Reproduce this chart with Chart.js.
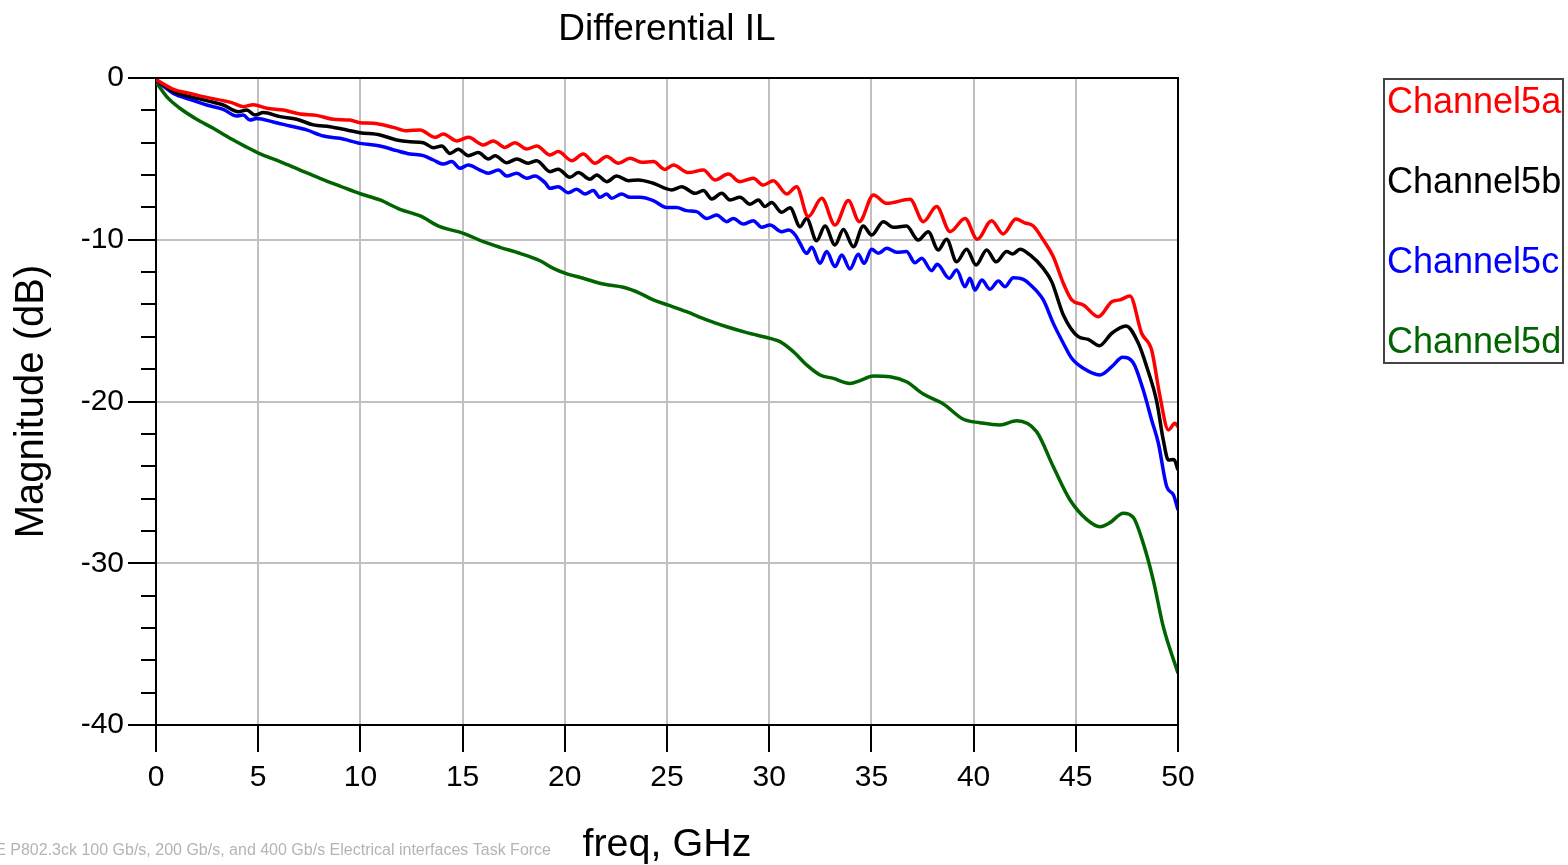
<!DOCTYPE html>
<html>
<head>
  <title>Differential IL</title>
  <script src="https://cdn.jsdelivr.net/npm/chart.js"></script>
  <style>
    body { margin: 0; background: #fff; }
  </style>
</head>
<body>
  <canvas id="ilChart" width="1568" height="865"></canvas>

  <script>
    // series names and colours
    const seriesNames = ['Channel5a', 'Channel5b', 'Channel5c', 'Channel5d'];
    const seriesColors = ['#ff0000', '#000000', '#0000ff', '#006400'];

    // Channel5a (red)
    const ch5aFreq = [0, 0.85, 1.66, 2.48, 3.29, 3.7, 4.27, 4.76, 5.42, 6.23, 7.05, 7.86, 8.67, 9.49, 9.98, 10.63, 11.61, 12.27, 12.92, 13.65, 14.06, 14.71, 15.28, 16.01, 16.5, 17.07, 17.56, 18.14, 18.63, 19.28, 19.68, 20.34, 20.9, 21.48, 22.05, 22.62, 23.19, 23.76, 24.33, 24.9, 25.31, 26.04, 26.78, 27.35, 28.0, 28.57, 29.22, 29.71, 30.2, 30.86, 31.34, 31.91, 32.57, 33.22, 33.87, 34.41, 35.1, 35.75, 36.89, 37.54, 38.19, 38.85, 39.58, 40.18, 40.88, 41.45, 42.07, 42.5, 42.92, 43.41, 43.9, 44.39, 44.8, 45.37, 46.1, 46.76, 47.16, 47.65, 48.22, 48.71, 49.12, 49.53, 49.85, 50];
    const ch5aMag = [-0.1, -0.7, -0.95, -1.2, -1.4, -1.52, -1.77, -1.65, -1.87, -1.98, -2.23, -2.31, -2.55, -2.6, -2.76, -2.8, -3.05, -3.26, -3.21, -3.67, -3.46, -3.89, -3.67, -4.14, -3.89, -4.29, -4.0, -4.39, -4.2, -4.76, -4.55, -5.11, -4.7, -5.27, -4.86, -5.27, -4.96, -5.21, -5.17, -5.65, -5.38, -5.85, -5.69, -6.31, -5.94, -6.41, -6.2, -6.62, -6.35, -7.17, -6.72, -8.57, -7.44, -9.09, -7.58, -8.88, -7.23, -7.75, -7.5, -8.88, -7.95, -9.5, -8.68, -9.97, -8.82, -9.64, -8.72, -8.95, -9.15, -10.02, -11.05, -12.69, -13.72, -14.03, -14.76, -13.83, -13.72, -13.48, -15.78, -16.82, -19.7, -21.76, -21.35, -21.56];

    // Channel5b (black)
    const ch5bFreq = [0, 0.85, 1.66, 2.48, 3.29, 4.03, 4.44, 4.84, 5.25, 6.07, 6.88, 7.7, 8.51, 9.33, 9.98, 10.96, 11.77, 12.43, 13.08, 13.57, 13.98, 14.38, 14.79, 15.28, 15.77, 16.26, 16.59, 17.16, 17.65, 18.21, 18.63, 19.28, 19.68, 20.25, 20.66, 21.23, 21.56, 22.05, 22.54, 23.11, 23.6, 24.33, 25.23, 25.72, 26.37, 26.78, 27.19, 27.68, 28.08, 28.57, 29.06, 29.47, 29.79, 30.12, 30.61, 31.02, 31.51, 31.83, 32.32, 32.73, 33.22, 33.63, 34.12, 34.6, 35.01, 35.58, 36.07, 36.72, 37.29, 37.78, 38.27, 38.68, 39.17, 39.66, 40.12, 40.64, 41.1, 41.62, 41.91, 42.27, 42.76, 43.41, 43.82, 44.39, 45.12, 45.61, 46.15, 46.76, 47.46, 48.06, 48.47, 48.96, 49.28, 49.53, 49.8, 50];
    const ch5bMag = [-0.1, -0.85, -1.15, -1.4, -1.67, -2.08, -1.98, -2.29, -2.14, -2.39, -2.55, -2.9, -3.01, -3.21, -3.38, -3.52, -3.83, -3.94, -4.0, -4.31, -4.2, -4.66, -4.41, -4.8, -4.61, -5.01, -4.8, -5.24, -5.01, -5.27, -5.11, -5.79, -5.64, -6.14, -5.85, -6.26, -6.0, -6.41, -6.06, -6.35, -6.3, -6.51, -6.92, -6.72, -7.13, -6.96, -7.48, -7.13, -7.54, -7.38, -7.8, -7.54, -7.95, -7.7, -8.3, -8.02, -9.19, -8.68, -10.06, -9.15, -10.32, -9.36, -10.43, -9.15, -9.71, -8.88, -9.23, -9.15, -10.02, -9.5, -10.63, -9.97, -11.36, -10.59, -11.56, -10.63, -11.36, -10.73, -10.88, -10.59, -10.94, -11.77, -12.59, -14.65, -15.99, -16.16, -16.55, -15.78, -15.33, -16.4, -17.85, -20.01, -22.38, -23.62, -23.58, -24.23];

    // Channel5c (blue)
    const ch5cFreq = [0, 0.85, 1.66, 2.48, 3.29, 3.95, 4.27, 4.6, 4.93, 5.74, 6.56, 7.37, 8.19, 9.0, 9.98, 10.96, 11.77, 12.43, 13.08, 13.57, 14.06, 14.47, 14.87, 15.28, 15.85, 16.26, 16.75, 17.16, 17.65, 18.14, 18.54, 19.03, 19.28, 19.68, 20.17, 20.58, 20.99, 21.39, 21.72, 22.05, 22.29, 22.78, 23.19, 23.68, 24.33, 24.98, 25.47, 25.96, 26.45, 26.94, 27.43, 27.92, 28.24, 28.73, 29.22, 29.63, 30.04, 30.61, 30.95, 31.3, 31.5, 31.83, 32.08, 32.49, 32.81, 33.22, 33.55, 33.95, 34.36, 34.64, 35.01, 35.34, 35.75, 36.24, 36.72, 37.13, 37.46, 37.95, 38.22, 38.81, 39.17, 39.58, 39.82, 40.07, 40.4, 40.8, 41.21, 41.54, 41.94, 42.43, 42.76, 43.41, 43.9, 44.39, 44.8, 45.37, 46.18, 46.76, 47.29, 47.81, 48.3, 48.71, 49.04, 49.45, 49.78, 50];
    const ch5cMag = [-0.15, -0.95, -1.32, -1.67, -1.94, -2.35, -2.29, -2.6, -2.5, -2.72, -2.97, -3.21, -3.59, -3.73, -4.04, -4.2, -4.49, -4.7, -4.8, -5.07, -5.32, -5.17, -5.58, -5.38, -5.69, -5.89, -5.69, -6.06, -5.89, -6.2, -6.06, -6.47, -6.82, -6.72, -7.09, -6.88, -7.17, -6.96, -7.38, -7.17, -7.44, -7.17, -7.38, -7.38, -7.58, -8.0, -8.0, -8.2, -8.26, -8.68, -8.47, -8.88, -8.68, -9.03, -8.82, -9.23, -9.09, -9.5, -9.4, -9.75, -10.2, -10.84, -10.47, -11.46, -10.73, -11.66, -10.94, -11.81, -10.9, -11.46, -10.59, -10.84, -10.53, -10.78, -10.73, -11.42, -11.15, -11.91, -11.52, -12.38, -11.87, -12.9, -12.38, -13.11, -12.49, -13.06, -12.55, -12.9, -12.35, -12.45, -12.76, -13.72, -15.17, -16.4, -17.33, -17.95, -18.36, -17.85, -17.27, -17.6, -19.29, -21.14, -22.58, -25.27, -25.78, -26.71];

    // Channel5d (green)
    const ch5dFreq = [0, 0.52, 1.17, 1.99, 2.8, 3.62, 4.44, 5.04, 6.07, 7.05, 8.02, 9.0, 10.03, 10.96, 11.94, 12.92, 13.89, 15.04, 16.01, 16.83, 17.81, 18.79, 19.44, 20.04, 20.9, 21.88, 22.86, 23.68, 24.33, 25.03, 25.96, 26.94, 27.92, 28.9, 30.04, 30.53, 31.18, 31.83, 32.49, 33.14, 33.95, 34.44, 35.09, 35.91, 36.72, 37.54, 38.52, 39.5, 40.31, 41.29, 42.11, 43.08, 43.9, 44.72, 45.53, 46.18, 46.67, 47.32, 47.81, 48.3, 48.79, 49.28, 50];
    const ch5dMag = [-0.25, -1.15, -1.87, -2.55, -3.11, -3.73, -4.28, -4.66, -5.17, -5.69, -6.2, -6.68, -7.17, -7.54, -8.12, -8.53, -9.19, -9.6, -10.12, -10.47, -10.84, -11.3, -11.77, -12.08, -12.38, -12.74, -12.94, -13.31, -13.72, -14.03, -14.45, -14.96, -15.38, -15.74, -16.1, -16.3, -16.92, -17.74, -18.36, -18.57, -18.88, -18.71, -18.42, -18.47, -18.78, -19.54, -20.15, -21.1, -21.31, -21.45, -21.19, -21.86, -24.03, -26.09, -27.29, -27.74, -27.49, -26.91, -27.16, -28.77, -31.04, -33.92, -36.8];

    const footerText = 'IEEE P802.3ck 100 Gb/s, 200 Gb/s, and 400 Gb/s Electrical interfaces Task Force';
    const fontFamily = "'Liberation Sans', Arial, sans-serif";

    Chart.defaults.font.family = fontFamily;

    const freqs = [ch5aFreq, ch5bFreq, ch5cFreq, ch5dFreq];
    const mags = [ch5aMag, ch5bMag, ch5cMag, ch5dMag];

    const datasets = seriesNames.map((name, k) => ({
      label: name,
      data: freqs[k].map((f, i) => ({ x: f, y: mags[k][i] })),
      borderColor: seriesColors[k],
      backgroundColor: seriesColors[k],
      borderWidth: 3.5,
      pointRadius: 0,
      cubicInterpolationMode: 'monotone',
      fill: false,
    }));

    // frame, minor y ticks, boxed legend and footer note
    const extras = {
      id: 'extras',
      afterDraw(chart) {
        const ctx = chart.ctx;
        const area = chart.chartArea;
        const yScale = chart.scales.y;
        ctx.save();
        ctx.strokeStyle = '#000';
        ctx.lineWidth = 2;
        ctx.beginPath();
        ctx.moveTo(area.left, area.top);
        ctx.lineTo(area.right, area.top);
        ctx.lineTo(area.right, area.bottom);
        ctx.stroke();

        // minor ticks every 2 dB
        ctx.beginPath();
        for (let v = -2; v > -40; v -= 2) {
          if (v % 10 === 0) continue;
          const py = Math.round(yScale.getPixelForValue(v));
          ctx.moveTo(area.left - 15, py);
          ctx.lineTo(area.left, py);
        }
        ctx.stroke();

        // legend box
        ctx.strokeStyle = '#444';
        ctx.strokeRect(1384, 79, 179, 284);
        ctx.font = '36px ' + fontFamily;
        ctx.textBaseline = 'middle';
        ctx.textAlign = 'left';
        chart.data.datasets.forEach((ds, i) => {
          ctx.fillStyle = ds.borderColor;
          ctx.fillText(ds.label, 1387, 103 + i * 80);
        });

        // footer
        ctx.font = '16px ' + fontFamily;
        ctx.fillStyle = '#b4b4b4';
        ctx.textAlign = 'right';
        ctx.fillText(footerText, 551, 851);
        ctx.restore();
      }
    };

    new Chart(document.getElementById('ilChart').getContext('2d'), {
      type: 'line',
      data: { datasets: datasets },
      options: {
        responsive: false,
        animation: false,
        devicePixelRatio: 1,
        layout: { padding: { left: 0, right: 390, top: 0, bottom: 0 } },
        plugins: {
          legend: { display: false },
          tooltip: { enabled: false },
          title: {
            display: true,
            text: 'Differential IL',
            color: '#000',
            fullSize: false,
            font: { size: 37, weight: 'normal', lineHeight: 1.2 },
            padding: { top: 8, bottom: 25.6 },
          },
        },
        scales: {
          x: {
            type: 'linear',
            min: 0,
            max: 50,
            ticks: {
              stepSize: 5,
              color: '#000',
              font: { size: 30 },
              padding: 8,
              maxRotation: 0,
              autoSkip: false,
            },
            grid: { color: '#c0c0c0', lineWidth: 2, tickColor: '#000', tickLength: 27, tickWidth: 2 },
            border: { color: '#000', width: 2 },
            title: {
              display: true,
              text: 'freq, GHz',
              color: '#000',
              font: { size: 39.5, lineHeight: 1.0 },
              padding: { top: 0, bottom: 0 },
            },
            afterFit(scale) { scale.height = 140; },
          },
          y: {
            type: 'linear',
            min: -40,
            max: 0,
            ticks: {
              stepSize: 10,
              color: '#000',
              font: { size: 30 },
              padding: 4,
            },
            grid: { color: '#c0c0c0', lineWidth: 2, tickColor: '#000', tickLength: 28, tickWidth: 2 },
            border: { color: '#000', width: 2 },
            title: {
              display: true,
              text: 'Magnitude (dB)',
              color: '#000',
              font: { size: 40, lineHeight: 1.2 },
              padding: { top: 8, bottom: 0 },
            },
            afterFit(scale) { scale.width = 156; },
          },
        },
      },
      plugins: [extras],
    });
  </script>
</body>
</html>
